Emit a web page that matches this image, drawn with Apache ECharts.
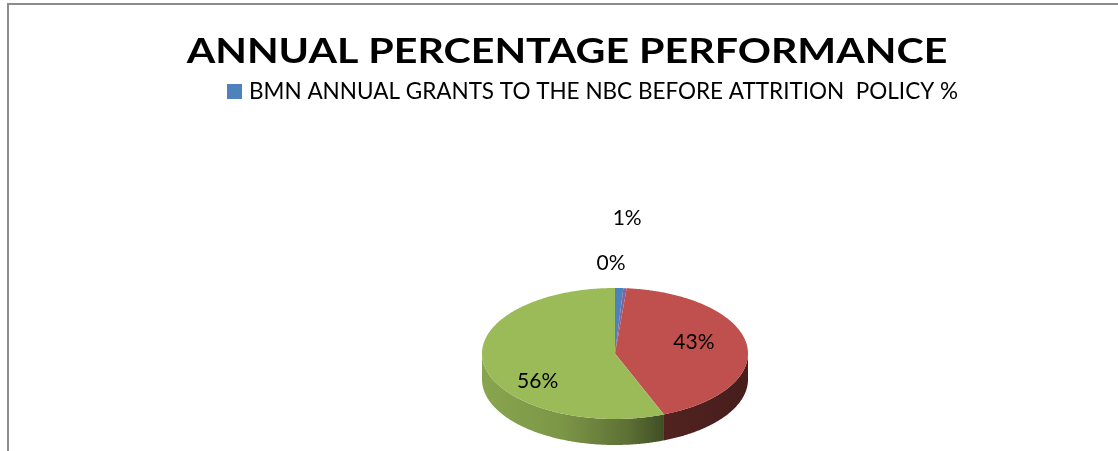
<!DOCTYPE html>
<html>
<head>
<meta charset="utf-8">
<script src="https://cdn.jsdelivr.net/npm/echarts@6/dist/echarts.min.js"></script>
<style>
  html, body { margin: 0; padding: 0; background: #fff; }
  #chart { width: 1118px; height: 451px; }
</style>
</head>
<body>
<div id="chart"></div>
<script>
// Chart data
const chartTitle = 'ANNUAL PERCENTAGE PERFORMANCE';
const seriesName = 'BMN ANNUAL GRANTS TO THE NBC BEFORE ATTRITION  POLICY %';
const categories = ['Share A', 'Share B', 'Share C', 'Share D'];
const shareValues = [1, 0.4, 42.6, 56];
const sliceColors = ['#4F81BD', '#8064A2', '#C0504D', '#9BBB59'];

// Layout of the tilted pie (pixels)
const pie = { cx: 615, cy: 353.5, rx: 133, ry: 65.5, depth: 26 };
// Label anchor: radius factor on the top face, then a pixel shift
const labelRadius = [1, 1, 0.6, 0.6];
const labelShift = [[8, -70], [-14, -25], [0, -6], [1, 20]];

const total = shareValues.reduce((a, b) => a + b, 0);
const startAngles = [];
shareValues.reduce((acc, v, i) => { startAngles[i] = acc; return acc + v; }, 0);

// Integer percentages that add up to 100 (largest remainder)
function roundedPercents(vals) {
  const raw = vals.map(v => v / total * 100);
  const fl = raw.map(Math.floor);
  let left = 100 - fl.reduce((a, b) => a + b, 0);
  const order = raw.map((r, i) => [r - fl[i], i]).sort((a, b) => b[0] - a[0]);
  for (let k = 0; k < left; k++) fl[order[k][1]] += 1;
  return fl;
}
const percentLabels = roundedPercents(shareValues).map(p => p + '%');

function pt(theta, f, dy) {
  return [pie.cx + pie.rx * f * Math.sin(theta), pie.cy - pie.ry * f * Math.cos(theta) + (dy || 0)];
}

function shade(hex, k) {
  const n = parseInt(hex.slice(1), 16);
  const r = Math.round(((n >> 16) & 255) * k);
  const g = Math.round(((n >> 8) & 255) * k);
  const b = Math.round((n & 255) * k);
  return 'rgb(' + r + ',' + g + ',' + b + ')';
}

function renderItem(params, api) {
  const i = params.dataIndex;
  const v = api.value(1);
  const a0 = startAngles[i] / total * Math.PI * 2;
  const a1 = a0 + v / total * Math.PI * 2;
  const children = [];
  const step = Math.PI / 360;

  // outer wall, visible on the front half only
  const s0 = Math.max(a0, Math.PI / 2);
  const s1 = Math.min(a1, Math.PI * 1.5);
  if (s1 > s0) {
    const upper = [], lower = [];
    for (let t = s0; t < s1; t += step) { upper.push(pt(t, 1)); }
    upper.push(pt(s1, 1));
    for (let k = upper.length - 1; k >= 0; k--) lower.push([upper[k][0], upper[k][1] + pie.depth]);
    const base = sliceColors[i];
    children.push({
      type: 'polygon',
      shape: { points: upper.concat(lower) },
      style: {
        fill: new echarts.graphic.LinearGradient(pie.cx - pie.rx, 0, pie.cx + pie.rx, 0, [
          { offset: 0, color: shade(base, 0.88) },
          { offset: 0.3, color: shade(base, 0.8) },
          { offset: 0.55, color: shade(base, 0.6) },
          { offset: 0.68, color: shade(base, 0.42) },
          { offset: 1, color: shade(base, 0.37) }
        ], true)
      }
    });
  }

  // top face
  const top = [[pie.cx, pie.cy]];
  for (let t = a0; t < a1; t += step) top.push(pt(t, 1));
  top.push(pt(a1, 1));
  children.push({
    type: 'polygon',
    shape: { points: top },
    style: { fill: sliceColors[i] }
  });

  // value label
  const mid = (a0 + a1) / 2;
  const anchor = pt(mid, labelRadius[i]);
  children.push({
    type: 'text',
    x: anchor[0] + labelShift[i][0],
    y: anchor[1] + labelShift[i][1],
    style: {
      text: percentLabels[i],
      fill: '#000',
      font: '21px Lato',
      align: 'center',
      verticalAlign: 'middle'
    }
  });

  return { type: 'group', children: children };
}

const chart = echarts.init(document.getElementById('chart'), null, { renderer: 'canvas' });
chart.setOption({
  animation: false,
  backgroundColor: '#fff',
  legend: {
    data: [seriesName],
    left: 222,
    top: 75,
    icon: 'rect',
    itemWidth: 15,
    itemHeight: 15,
    itemGap: 10,
    textStyle: { fontFamily: 'Lato', fontSize: 22.5, color: '#000', padding: [0, 0, 0, 2] }
  },
  graphic: [{
    // chart frame
    type: 'rect',
    shape: { x: 8, y: 4, width: 1200, height: 600 },
    style: { fill: 'none', stroke: '#8c8c8c', lineWidth: 2 },
    z: -1
  }, {
    // chart title, drawn a little wide
    type: 'text',
    x: 567,
    y: 52,
    scaleX: 1.21,
    style: {
      text: chartTitle,
      font: 'bold 34px Lato',
      fill: '#000',
      align: 'center',
      verticalAlign: 'middle'
    }
  }],
  series: [{
    type: 'custom',
    name: seriesName,
    coordinateSystem: 'none',
    itemStyle: { color: sliceColors[0] },
    renderItem: renderItem,
    data: categories.map((c, i) => ({ name: c, value: [i, shareValues[i]] }))
  }]
});
</script>
</body>
</html>
